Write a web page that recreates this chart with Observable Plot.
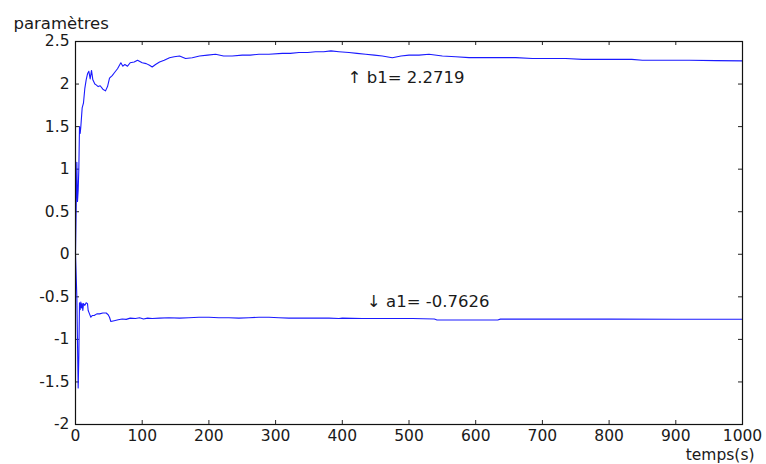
<!DOCTYPE html>
<html>
<head>
<meta charset="utf-8">
<script src="https://cdn.jsdelivr.net/npm/d3@7"></script>
<script src="https://cdn.jsdelivr.net/npm/@observablehq/plot@0.6"></script>
<style>
  html, body { margin: 0; padding: 0; background: #fff; }
  #chart { width: 766px; height: 464px; }
</style>
</head>
<body>
<div id="chart"></div>
<script>
// Time (s) and estimated parameter b1
const tB1 = [0, 2, 3, 4, 5, 6, 7, 8, 10, 12, 14, 16, 18, 20, 22, 24, 26, 29, 31, 34, 37, 41, 45, 48, 51, 55, 58, 63, 68, 71, 74, 78, 82, 88, 93, 100, 106, 111, 115, 120, 126, 133, 141, 148, 156, 165, 175, 186, 198, 210, 222, 235, 250, 262, 275, 290, 310, 322, 335, 348, 360, 372, 383, 395, 410, 422, 435, 448, 460, 475, 488, 500, 515, 530, 550, 570, 590, 610, 635, 660, 685, 710, 735, 760, 790, 834, 850, 880, 920, 960, 1000];
const b1 = [0, 1.08, 0.62, 0.75, 1.0, 1.5, 1.42, 1.5, 1.72, 1.78, 1.95, 2.05, 2.12, 2.15, 2.06, 2.16, 2.05, 2.0, 1.99, 1.97, 1.98, 1.94, 1.92, 1.97, 2.07, 2.1, 2.13, 2.18, 2.25, 2.21, 2.23, 2.21, 2.25, 2.26, 2.28, 2.25, 2.24, 2.22, 2.2, 2.23, 2.26, 2.28, 2.31, 2.32, 2.33, 2.3, 2.31, 2.33, 2.34, 2.35, 2.33, 2.33, 2.34, 2.34, 2.35, 2.35, 2.36, 2.36, 2.37, 2.37, 2.38, 2.38, 2.39, 2.38, 2.37, 2.36, 2.35, 2.34, 2.33, 2.31, 2.33, 2.34, 2.34, 2.35, 2.33, 2.32, 2.31, 2.31, 2.31, 2.31, 2.3, 2.3, 2.3, 2.29, 2.29, 2.29, 2.28, 2.28, 2.28, 2.275, 2.2719];

// Time (s) and estimated parameter a1
const tA1 = [0, 2, 4, 5, 6, 7, 8, 9, 10, 11, 12, 14, 16, 18, 19, 21, 23, 25, 28, 32, 36, 41, 46, 49, 51, 53, 58, 64, 70, 76, 82, 90, 96, 102, 108, 115, 126, 140, 156, 170, 185, 200, 215, 230, 245, 260, 275, 290, 305, 320, 340, 360, 380, 395, 400, 430, 470, 505, 538, 542, 600, 633, 637, 700, 800, 900, 1000];
const a1 = [0, -0.5, -1.57, -1.2, -0.57, -0.65, -0.56, -0.63, -0.58, -0.66, -0.58, -0.6, -0.57, -0.58, -0.66, -0.7, -0.74, -0.72, -0.72, -0.7, -0.7, -0.69, -0.69, -0.71, -0.74, -0.79, -0.78, -0.77, -0.76, -0.765, -0.75, -0.755, -0.745, -0.76, -0.75, -0.755, -0.75, -0.745, -0.75, -0.745, -0.74, -0.74, -0.745, -0.745, -0.75, -0.745, -0.74, -0.74, -0.745, -0.75, -0.75, -0.75, -0.75, -0.755, -0.75, -0.755, -0.755, -0.755, -0.76, -0.772, -0.772, -0.772, -0.762, -0.762, -0.762, -0.7625, -0.7626];

const xTicks = [0, 100, 200, 300, 400, 500, 600, 700, 800, 900, 1000];
const yTicks = [-2, -1.5, -1, -0.5, 0, 0.5, 1, 1.5, 2, 2.5];

const labels = [
  {t: 408, v: 2.07, text: "\u2191 b1= 2.2719"},
  {t: 437, v: -0.56, text: "\u2193 a1= -0.7626"}
];

const dataB1 = tB1.map((t, i) => ({t, v: b1[i]}));
const dataA1 = tA1.map((t, i) => ({t, v: a1[i]}));

const W = 766, H = 464, ML = 75, MR = 24, MT = 41, MB = 40;
const innerW = W - ML - MR, innerH = H - MT - MB, TICK = 4;

const chart = Plot.plot({
  width: W,
  height: H,
  marginLeft: ML,
  marginRight: MR,
  marginTop: MT,
  marginBottom: MB,
  style: {fontFamily: "DejaVu Sans, sans-serif", fontSize: "15.5px", color: "#1a1a1a", background: "#fff"},
  x: {domain: [0, 1000]},
  y: {domain: [-2, 2.5]},
  marks: [
    // tick labels
    Plot.axisX({ticks: xTicks, tickSize: 0, tickPadding: 5, label: null, tickFormat: d => String(d)}),
    Plot.axisY({ticks: yTicks, tickSize: 0, tickPadding: 6, label: null, tickFormat: d => String(d)}),
    // inward ticks on all four sides
    Plot.ruleX(xTicks, {x: d => d, insetTop: innerH - TICK, stroke: "#222"}),
    Plot.ruleX(xTicks, {x: d => d, insetBottom: innerH - TICK, stroke: "#222"}),
    Plot.ruleY(yTicks, {y: d => d, insetRight: innerW - TICK, stroke: "#222"}),
    Plot.ruleY(yTicks, {y: d => d, insetLeft: innerW - TICK, stroke: "#222"}),
    Plot.line(dataB1, {x: "t", y: "v", stroke: "#1a1aff", strokeWidth: 1.1}),
    Plot.line(dataA1, {x: "t", y: "v", stroke: "#1a1aff", strokeWidth: 1.1}),
    Plot.frame({stroke: "#111", strokeWidth: 1.2}),
    Plot.text(labels, {x: "t", y: "v", text: "text", textAnchor: "start", fontSize: 16.5, fill: "#1a1a1a"}),
    Plot.text(["param\u00e8tres"], {frameAnchor: "top-left", dx: -62, dy: -24, textAnchor: "start", fontSize: 16.5, fill: "#1a1a1a"}),
    Plot.text(["temps(s)"], {frameAnchor: "bottom-right", dx: 12, dy: 35, textAnchor: "end", fontSize: 15.5, fill: "#1a1a1a"})
  ]
});
document.getElementById("chart").appendChild(chart);
</script>
</body>
</html>
